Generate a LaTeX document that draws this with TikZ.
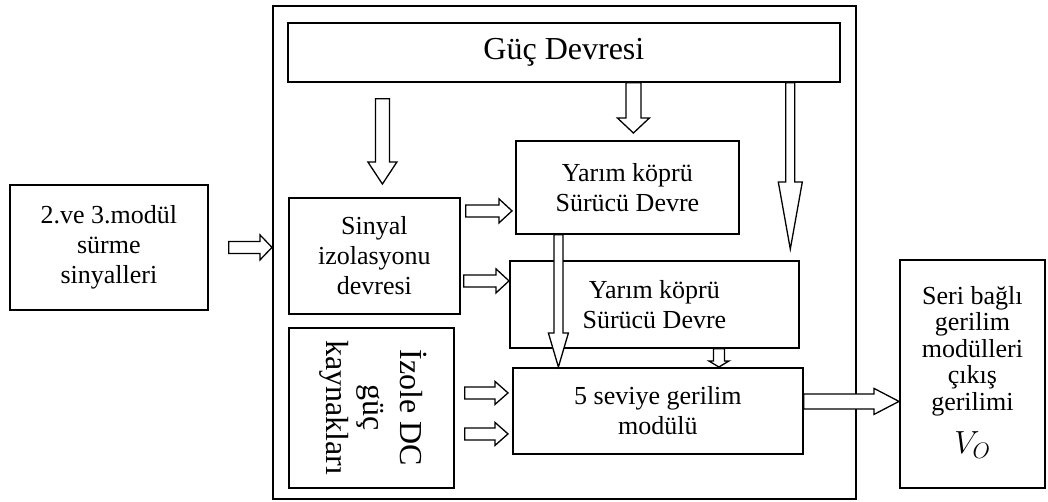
\RequirePackage{fix-cm}
\documentclass[tikz,border=0pt]{standalone}
\usepackage{fontspec}
\usepackage{graphicx}
\setmainfont{Liberation Serif}
\usetikzlibrary{positioning, calc}
\definecolor{ink}{HTML}{000000}

\begin{document}
\begin{tikzpicture}[
    x=1pt, y=-1pt,
    txt/.style={font=\fontsize{26}{30}\selectfont},
    bigtxt/.style={font=\fontsize{32}{37}\selectfont},
    box/.style={
        rectangle, draw=ink, line width=1.8pt, anchor=north west,
        align=center, inner sep=2pt, text=ink, txt
    },
    bshaft/.store in=\bshaft,
    bhead/.store in=\bhead,
    blen/.store in=\blen,
    barr/.style n args={3}{
        bshaft=#1, bhead=#2, blen=#3,
        draw=ink, fill=white, line width=1.3pt, line join=miter,
        to path={let \p1=($(\tikztotarget)!\blen!(\tikztostart)$) in
            ($(\tikztostart)!\bshaft!90:(\tikztotarget)$)
            -- ($(\p1)!\bshaft!90:(\tikztotarget)$)
            -- ($(\p1)!\bhead!90:(\tikztotarget)$)
            -- (\tikztotarget)
            -- ($(\p1)!\bhead!-90:(\tikztotarget)$)
            -- ($(\p1)!\bshaft!-90:(\tikztotarget)$)
            -- ($(\tikztostart)!\bshaft!-90:(\tikztotarget)$) -- cycle}
    },
]
\path[use as bounding box, fill=white] (0,0) rectangle (1048,501);

% ---------------------------------------------------------------- boxes
\node (frame)  [box, minimum width=583pt, minimum height=493pt] at (272,5) {};
\node (guc)    [box, bigtxt, minimum width=552pt, minimum height=59pt] at (287,22) {Güç Devresi};
\node (y1)     [box, minimum width=223pt, minimum height=93pt]  at (515,140) {Yarım köprü\\Sürücü Devre};
\node (sig)    [box, minimum width=171pt, minimum height=116pt] at (288,197) {Sinyal\\izolasyonu\\devresi};
\node (y2)     [box, minimum width=289pt, minimum height=87pt]  at (509,260) {Yarım köprü\\Sürücü Devre};
\node (izole)  [box, bigtxt, minimum width=165pt, minimum height=160pt] at (288,327)
    {\rotatebox{-90}{\begin{tabular}{@{}c@{}}İzole DC\\güç\\kaynakları\end{tabular}}};
\node (seviye) [box, minimum width=290pt, minimum height=86pt]  at (512,367) {5 seviye gerilim\\modülü};

% ---------------------------------------------------------------- outside
\node (surme)  [box, minimum width=198pt, minimum height=125pt] at (9,184) {2.ve 3.modül\\sürme\\sinyalleri};
\node (cikis)  [box, minimum width=145pt, minimum height=228pt, font=\fontsize{26}{26.5}\selectfont] at (899,259)
    {Seri bağlı\\gerilim\\modülleri\\çıkış\\gerilimi\\[15pt]{\fontsize{32}{32}\selectfont$V_O$\rule[-8pt]{0pt}{8pt}}};

% ---------------------------------------------------------------- arrows
\draw [barr={6pt}{12.5pt}{12pt}] ([xshift=20pt]surme.east) to (surme.east -| frame.west);

\draw [barr={7pt}{14.5pt}{22pt}]  ([shift={(8pt,-16pt)}]sig.north |- guc.south) to ([shift={(8pt,13pt)}]sig.north);
\draw [barr={7.5pt}{16pt}{15pt}]  ([xshift=6pt]y1.north |- guc.south) to ([shift={(6pt,7pt)}]y1.north);
\draw [barr={4.5pt}{12pt}{67pt}]  ([xshift=-9.5pt]y2.north east |- guc.south) to ([shift={(-9.5pt,11pt)}]y2.north east);

\draw [barr={6pt}{12pt}{13pt}] ([shift={(5pt,45pt)}]sig.east) to ([shift={(-3pt,45pt)}]sig.east -| y1.west);
\draw [barr={6pt}{12pt}{13pt}] ([shift={(3pt,-25pt)}]sig.east) to ([yshift=-25pt]sig.east -| y2.west);

\draw [barr={4.5pt}{10pt}{34pt}] ([xshift=-69pt]y1.south) to ([xshift=-69pt]y1.south |- seviye.north);
\draw [barr={5.5pt}{10pt}{6pt}]  ([xshift=64.5pt]y2.south) to ([xshift=64.5pt]y2.south |- seviye.north);

\draw [barr={6pt}{11.5pt}{13pt}] ([shift={(10pt,15pt)}]izole.east)  to ([shift={(-4pt,15pt)}]izole.east -| seviye.west);
\draw [barr={6pt}{11.5pt}{13pt}] ([shift={(10pt,-26pt)}]izole.east) to ([shift={(-4pt,-26pt)}]izole.east -| seviye.west);

\draw [barr={7.5pt}{13pt}{25pt}] ([yshift=9.5pt]seviye.east) to ([yshift=9.5pt]seviye.east -| cikis.west);

\end{tikzpicture}
\end{document}
